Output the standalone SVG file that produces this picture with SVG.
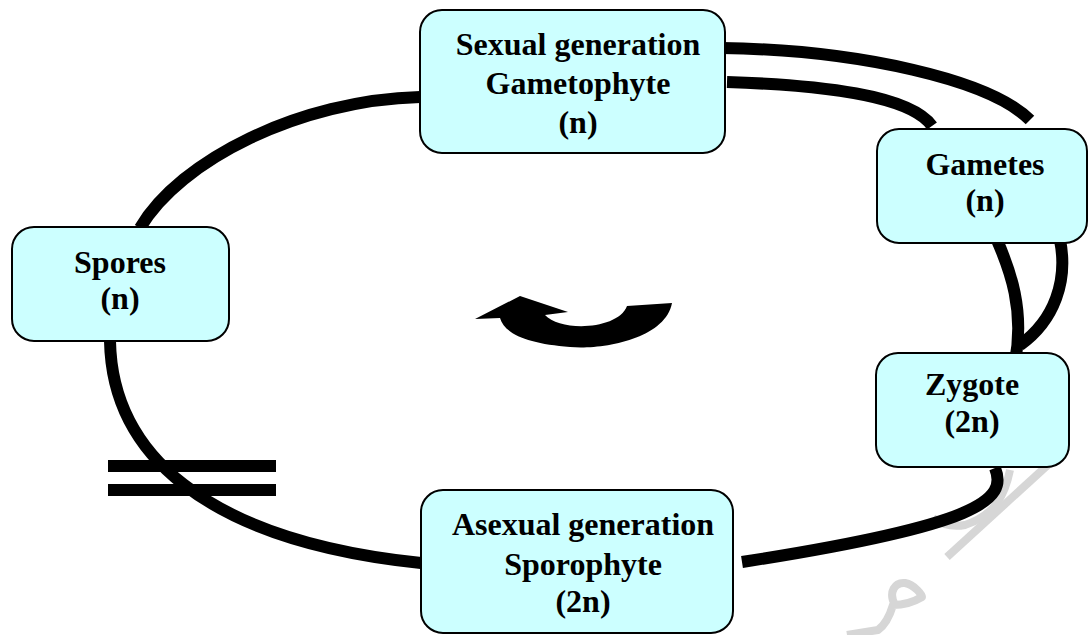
<svg xmlns="http://www.w3.org/2000/svg" width="1088" height="635" viewBox="0 0 1088 635">
<style>
.box{fill:#ccffff;stroke:#000;stroke-width:2}
.lbl{font-family:"Liberation Serif","Times New Roman",serif;font-weight:bold;font-size:32px;fill:#000;text-anchor:middle}
.con{fill:none;stroke:#000;stroke-width:12}
.wm{fill:none;stroke:#d6d6d6;stroke-width:8;stroke-linecap:butt;stroke-linejoin:round}
</style>
<rect width="1088" height="635" fill="#fff"/>
<g id="watermark">
<path class="wm" d="M1050,463 L947,557"/>
<path class="wm" d="M1010,470 C1005,495 995,515 965,525 C950,528 940,523 933,518"/>
<path class="wm" d="M895,605 C888,592 895,582 905,583 C915,585 922,595 922,597 C912,603 900,605 893,605 C890,615 885,625 878,630 L847,635"/>
</g>
<g id="connectors">
<path class="con" d="M420,97 C300,100 180,160 140,228"/>
<path class="con" d="M722,48 C860,50 990,80 1030,120"/>
<path class="con" d="M727,82 C820,85 910,95 932,126"/>
<path class="con" d="M997,240 C1010,270 1025,310 1015,362"/>
<path class="con" d="M1060,240 C1068,280 1055,320 1020,345"/>
<path class="con" d="M995,468 C1008,500 980,525 742,562"/>
<path class="con" d="M110,341 C112,450 200,540 421,563"/>
<line class="con" x1="108" y1="466" x2="276" y2="466"/>
<line class="con" x1="108" y1="490" x2="276" y2="490"/>
</g>
<g id="cycle-arrow">
<path d="M475,319 L520,296 L568,312 L545,315 C560,332 618,330 627,306 L672,303 C665,340 600,350 570,347 C530,344 505,335 500,318 Z" fill="#000"/>
</g>
<g id="gametophyte">
<rect class="box" x="420" y="10" width="305" height="143" rx="22"/>
<text class="lbl" x="578" y="55">Sexual generation</text>
<text class="lbl" x="578" y="94">Gametophyte</text>
<text class="lbl" x="578" y="133">(n)</text>
</g>
<g id="gametes">
<rect class="box" x="877" y="129" width="210" height="114" rx="22"/>
<text class="lbl" x="985" y="175">Gametes</text>
<text class="lbl" x="985" y="211">(n)</text>
</g>
<g id="zygote">
<rect class="box" x="876" y="353" width="193" height="114" rx="22"/>
<text class="lbl" x="972" y="395">Zygote</text>
<text class="lbl" x="972" y="432">(2n)</text>
</g>
<g id="spores">
<rect class="box" x="12" y="227" width="217" height="114" rx="22"/>
<text class="lbl" x="120" y="273">Spores</text>
<text class="lbl" x="120" y="309">(n)</text>
</g>
<g id="sporophyte">
<rect class="box" x="421" y="490" width="312" height="143" rx="22"/>
<text class="lbl" x="583" y="535">Asexual generation</text>
<text class="lbl" x="583" y="575">Sporophyte</text>
<text class="lbl" x="583" y="612">(2n)</text>
</g>
</svg>
